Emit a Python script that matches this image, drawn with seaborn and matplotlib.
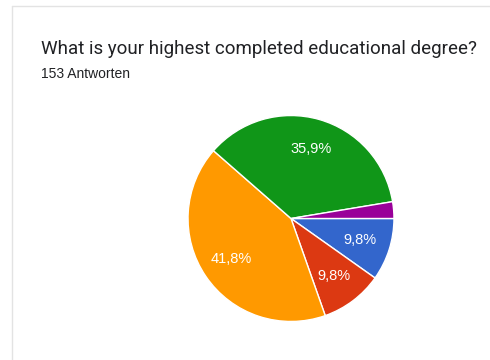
import matplotlib
matplotlib.use("Agg")
import matplotlib.pyplot as plt
from matplotlib.lines import Line2D
import seaborn as sns

# Survey answers (153 responses), in option order
categories = ["Option 1", "Option 2", "Option 3", "Option 4", "Option 5"]
counts = [15, 15, 64, 55, 4]
pct_labels = ["9,8%", "9,8%", "41,8%", "35,9%", ""]
colors = ["#3366cc", "#dc3912", "#ff9900", "#109618", "#990099"]

title = "What is your highest completed educational degree?"
subtitle = "153 Antworten"

sns.set_theme(style="white")
plt.rcParams["font.family"] = ["Roboto", "DejaVu Sans"]

W, H = 490, 360
fig = plt.figure(figsize=(W / 100, H / 100), dpi=100)
fig.patch.set_facecolor("white")

# card border (top and left edges)
border = "#e3e3e3"
fig.add_artist(Line2D([12 / W, 1], [1 - 6 / H, 1 - 6 / H], color=border, lw=1))
fig.add_artist(Line2D([12 / W, 12 / W], [0, 1 - 6 / H], color=border, lw=1))


def fitted_text(x, y, s, width_px, size, **kw):
    """Place a text and scale its font so it spans width_px pixels."""
    t = fig.text(x / W, 1 - y / H, s, fontsize=size, va="baseline", **kw)
    renderer = fig.canvas.get_renderer()
    w = t.get_window_extent(renderer).width
    t.set_fontsize(size * width_px / w)
    return t


fitted_text(41, 54, title, 436, 16, color="#202124")
fitted_text(41, 78, subtitle, 89, 10, color="#202124",
            family=["Liberation Sans", "DejaVu Sans"])

cx, cy, r = 291.0, 218.5, 104
ax = fig.add_axes([(cx - r) / W, (H - cy - r) / H, 2 * r / W, 2 * r / H])
wedges, texts = ax.pie(
    counts,
    colors=sns.color_palette(colors),
    labels=pct_labels,
    labeldistance=0.7,
    startangle=0,
    counterclock=False,
    radius=1,
    wedgeprops=dict(edgecolor="white", linewidth=1),
    textprops=dict(color="white", fontsize=10.5, ha="center", va="center",
                   family=["Liberation Sans", "DejaVu Sans"]),
)
ax.set_xlim(-1.01, 1.01)
ax.set_ylim(-1.01, 1.01)
ax.set_aspect("equal")
ax.axis("off")

fig.savefig("out.png", dpi=100, facecolor="white")
